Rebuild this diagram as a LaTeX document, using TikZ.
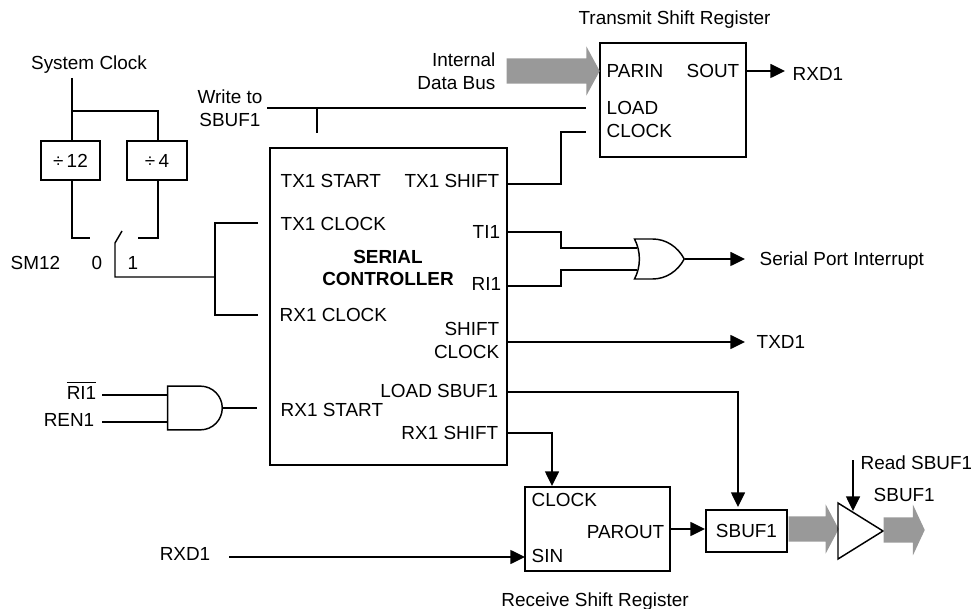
\documentclass[tikz,border=0pt]{standalone}
\usepackage{fontspec}
\setmainfont{Liberation Sans}
\usepackage{tikz}
\usetikzlibrary{arrows.meta,shapes.arrows,shapes.gates.logic.US}

\begin{document}
\begin{tikzpicture}[
      x=0.75pt, y=-0.75pt,
      font=\fontsize{14.2}{17}\selectfont,
      line width=1.1pt,
      box/.style={draw, inner sep=0pt, align=center},
      txt/.style={inner sep=0pt, align=center, text height=10.2pt, text depth=0pt},
      twoline/.style={inner sep=0pt},
      lport/.style={txt, anchor=west},
      rport/.style={txt, anchor=east},
      bus/.style={single arrow, fill=black!40, draw=none, inner xsep=0pt, inner ysep=9pt,
                  anchor=tail, single arrow head indent=0pt},
      >={Triangle[length=11pt,width=10.5pt]}]

    \useasboundingbox (0,0) rectangle (971,609);

    % clock dividers and the SM12 switch
    \node[txt] (sysclk) at (89,63) {System Clock};
    \node[box, minimum width=44.25pt, minimum height=29.25pt] (div12) at (70.5,160.5) {÷\,12};
    \node[box, minimum width=45pt, minimum height=29.25pt] (div4) at (157,160.5) {÷\,4};
    \coordinate (clktop) at (72,78);
    \coordinate (clkfork) at (72,111);
    \coordinate (sw0) at (90,238);
    \coordinate (sw1) at (138,238);
    \coordinate (swpole) at (115,243);
    \coordinate (swarm) at (122,231);
    \coordinate (clkjoin) at (215,277);
    \node[lport] (sm12) at (10,263) {SM12};
    \node[lport] (sw0lbl) at (91,263) {0};
    \node[lport] (sw1lbl) at (127,263) {1};
    \draw (clktop) -- (72,141);
    \draw (clkfork) -| (158,141);
    \draw (72,180) |- (sw0);
    \draw (158,180) |- (sw1);
    \draw (swarm) -- (swpole) -- (115,277) -- (clkjoin);

    % serial controller
    \node[box, minimum width=177.75pt, minimum height=237.75pt] (ctrl) at (388.5,306.5) {};
    \node[lport] (txstart) at (280,181) {TX1 START};
    \node[rport] (txshift) at (500,181) {TX1 SHIFT};
    \node[lport] (txclock) at (280,224) {TX1 CLOCK};
    \node[lport] (ti) at (472,232) {TI1};
    \node[twoline, align=center, font=\fontsize{14.2}{17}\selectfont\bfseries] (ctrlname) at (388,268)
      {SERIAL\\CONTROLLER};
    \node[lport] (ri) at (471,284) {RI1};
    \node[lport] (rxclock) at (279,315) {RX1 CLOCK};
    \node[twoline, align=right, anchor=east] (shiftclk) at (500,340.5) {SHIFT\\CLOCK};
    \node[rport] (loadsbuf) at (499,391) {LOAD SBUF1};
    \node[lport] (rxstart) at (280,410) {RX1 START};
    \node[rport] (rxshift) at (499,433) {RX1 SHIFT};

    \draw (258,223) -| (clkjoin) |- (258,315);

    % transmit shift register
    \node[txt] (txname) at (674.5,18) {Transmit Shift Register};
    \node[box, minimum width=109.5pt, minimum height=85.5pt] (txreg) at (673,100) {};
    \node[lport] (parin) at (606,71) {PARIN};
    \node[rport] (sout) at (740,71) {SOUT};
    \node[lport] (load) at (606,108) {LOAD};
    \node[lport] (clock) at (606,131) {CLOCK};
    \node[twoline, align=right, anchor=east] (busname) at (496,71) {Internal\\Data Bus};
    \node[lport] (txd) at (792,74) {RXD1};
    \node[bus, minimum height=69.75pt, single arrow head extend=9pt,
          single arrow tip angle=123] (inbus) at (506,71) {};
    \node[twoline, align=center] (write) at (230,108) {Write to\\SBUF1};
    \draw (267,108) -- (586,108);
    \draw (317,108) -- (317,133);
    \draw (507,184) -| (561,132) -- (586,132);
    \draw[->] (txreg.east |- sout) -- (785,71);

    % interrupt OR gate
    \node[or gate US, draw, logic gate inputs=nn, minimum height=30pt, inner sep=0pt,
          xscale=0.91, transform shape, anchor=output] (orgate) at (685,259) {};
    \coordinate (orup) at (637,248);
    \coordinate (ordn) at (637,270);
    \node[lport] (intr) at (759,259) {Serial Port Interrupt};
    \draw (507,232) -| (561,248) -- (orup);
    \draw (507,286) -| (561,270) -- (ordn);
    \draw[->] (orgate.output) -- (745,259);

    % TXD1 output
    \node[lport] (txdlbl) at (756,342) {TXD1};
    \draw[->] (507,342) -- (745,342);

    % RX1 START AND gate
    \node[and gate US, draw, logic gate inputs=nn, minimum width=41pt, minimum height=30pt,
          inner sep=0pt, anchor=output] (andgate) at (223,408) {};
    \node[rport] (ribar) at (97,393) {$\overline{\mbox{\rule{0pt}{11.5pt}RI1}}$};
    \node[rport] (ren) at (95,420) {REN1};
    \draw (102,395) -- (168,395);
    \draw (102,422) -- (168,422);
    \draw (andgate.output) -- (257,408);

    % receive shift register and SBUF1
    \node[box, minimum width=108.75pt, minimum height=63pt] (rxreg) at (597.5,529) {};
    \node[lport] (rxclk) at (531,500) {CLOCK};
    \node[rport] (parout) at (665,532) {PAROUT};
    \node[lport] (sin) at (531,556) {SIN};
    \node[txt] (rxname) at (595,600) {Receive Shift Register};
    \node[rport] (rxd) at (211,554) {RXD1};
    \coordinate (rxdstart) at (229,557);
    \node[box, minimum width=60.75pt, minimum height=31.5pt] (sbuf) at (746.5,531) {SBUF1};
    \draw[->] (507,392) -| (738,507);
    \draw[->] (507,433) -| (552,486);
    \draw[->] (rxdstart) -- (525,557);
    \draw[->] (rxreg.east |- 0,529) -- (705,529);

    % output buffer
    \node[bus, minimum height=37.5pt, single arrow head extend=9pt,
          single arrow tip angle=124] (outbus) at (788,529) {};
    \coordinate (bufa) at (838,503);
    \coordinate (bufb) at (838,559);
    \coordinate (buftip) at (883,531);
    \draw (bufa) -- (buftip) -- (bufb) -- cycle;
    \coordinate (readtop) at (853,460);
    \draw[->] (readtop) -- (853,511);
    \node[lport] (readlbl) at (860,463) {Read SBUF1};
    \node[lport] (sbuflbl) at (873,495) {SBUF1};
    \node[bus, minimum height=30.75pt, single arrow head extend=9.5pt,
          single arrow tip angle=130] (sbufout) at (883,530) {};
  \end{tikzpicture}
\end{document}
